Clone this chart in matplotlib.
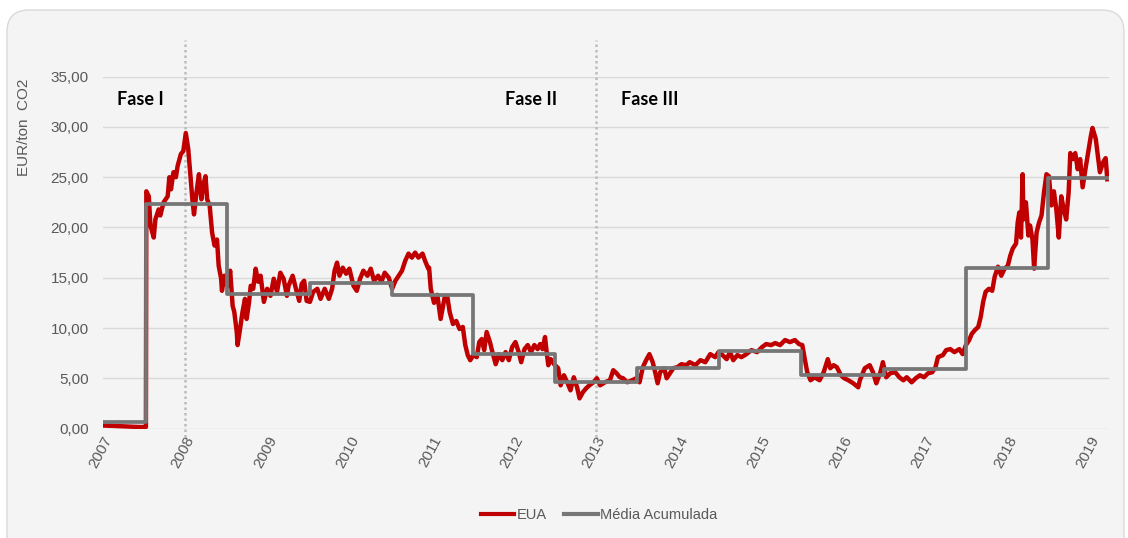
import matplotlib
matplotlib.use("Agg")
import matplotlib.pyplot as plt
from matplotlib.patches import FancyBboxPatch
from matplotlib.lines import Line2D
from matplotlib.transforms import IdentityTransform

# EUA price (EUR/ton CO2), decimal year
eua_year = [
    2007.00, 2007.15, 2007.30, 2007.45, 2007.525,
    2007.53, 2007.56, 2007.58, 2007.62, 2007.64, 2007.68, 2007.70, 2007.74, 2007.79, 2007.81,
    2007.83, 2007.86, 2007.89, 2007.91, 2007.95, 2007.98, 2008.01, 2008.04, 2008.06, 2008.09,
    2008.11, 2008.14, 2008.17, 2008.20, 2008.22, 2008.25, 2008.27, 2008.30, 2008.33, 2008.36,
    2008.39, 2008.41, 2008.44, 2008.45, 2008.48, 2008.52, 2008.55, 2008.58, 2008.60, 2008.63,
    2008.64, 2008.67, 2008.70, 2008.73, 2008.75, 2008.78, 2008.80, 2008.83, 2008.86, 2008.89,
    2008.92, 2008.96, 2009.00, 2009.04, 2009.08, 2009.12, 2009.16, 2009.20, 2009.24, 2009.26,
    2009.31, 2009.35, 2009.39, 2009.42, 2009.45, 2009.48, 2009.52, 2009.56, 2009.61, 2009.65,
    2009.70, 2009.75, 2009.79, 2009.82, 2009.85, 2009.88, 2009.92, 2009.96, 2010.00, 2010.05,
    2010.09, 2010.13, 2010.17, 2010.22, 2010.26, 2010.30, 2010.35, 2010.39, 2010.43, 2010.48,
    2010.52, 2010.56, 2010.60, 2010.64, 2010.68, 2010.72, 2010.76, 2010.80, 2010.84, 2010.89,
    2010.92, 2010.96, 2010.97, 2010.99, 2011.03, 2011.07, 2011.11, 2011.16, 2011.19, 2011.22,
    2011.26, 2011.30, 2011.34, 2011.38, 2011.41, 2011.44, 2011.47, 2011.51, 2011.55, 2011.58,
    2011.61, 2011.64, 2011.67, 2011.71, 2011.74, 2011.78, 2011.82, 2011.86, 2011.90, 2011.94,
    2011.98, 2012.02, 2012.06, 2012.09, 2012.13, 2012.17, 2012.21, 2012.25, 2012.29, 2012.32,
    2012.35, 2012.38, 2012.40, 2012.42, 2012.45, 2012.49, 2012.54, 2012.57, 2012.61, 2012.65,
    2012.69, 2012.73, 2012.77, 2012.80, 2012.84, 2012.88, 2012.92, 2012.97, 2013.01, 2013.05,
    2013.11, 2013.17, 2013.21, 2013.25, 2013.29, 2013.33, 2013.38, 2013.44, 2013.49, 2013.53,
    2013.57, 2013.61, 2013.65, 2013.69, 2013.72, 2013.75, 2013.78, 2013.83, 2013.86, 2013.90,
    2013.94, 2013.99, 2014.04, 2014.10, 2014.14, 2014.21, 2014.27, 2014.33, 2014.39, 2014.45,
    2014.49, 2014.54, 2014.59, 2014.63, 2014.67, 2014.72, 2014.77, 2014.83, 2014.89, 2014.96,
    2015.02, 2015.07, 2015.13, 2015.18, 2015.24, 2015.30, 2015.36, 2015.42, 2015.47, 2015.51,
    2015.54, 2015.57, 2015.61, 2015.66, 2015.72, 2015.77, 2015.82, 2015.85, 2015.89, 2015.93,
    2015.98, 2016.02, 2016.07, 2016.13, 2016.19, 2016.21, 2016.27, 2016.33, 2016.37, 2016.41,
    2016.46, 2016.49, 2016.53, 2016.58, 2016.64, 2016.69, 2016.74, 2016.78, 2016.84, 2016.89,
    2016.94, 2016.99, 2017.04, 2017.09, 2017.13, 2017.16, 2017.22, 2017.26, 2017.31, 2017.36,
    2017.42, 2017.46, 2017.50, 2017.54, 2017.57, 2017.61, 2017.65, 2017.68, 2017.71, 2017.74,
    2017.78, 2017.82, 2017.85, 2017.89, 2017.93, 2017.97, 2018.01, 2018.04, 2018.07, 2018.11,
    2018.13, 2018.15, 2018.17, 2018.19, 2018.20, 2018.23, 2018.26, 2018.28, 2018.31, 2018.33,
    2018.36, 2018.39, 2018.42, 2018.45, 2018.48, 2018.51, 2018.54, 2018.57, 2018.60, 2018.63,
    2018.66, 2018.69, 2018.72, 2018.75, 2018.77, 2018.80, 2018.83, 2018.86, 2018.89, 2018.92,
    2018.96, 2018.99, 2019.02, 2019.04, 2019.08, 2019.11, 2019.13, 2019.17, 2019.20, 2019.22,
]
eua_price = [
    0.3, 0.25, 0.2, 0.15, 0.15,
    23.6, 23.1, 20.2, 19.0, 20.8, 21.8, 21.2, 22.5, 23.1, 25.0,
    23.8, 25.5, 25.0, 26.1, 27.3, 27.6, 29.4, 27.8, 25.8, 22.8,
    21.3, 23.5, 25.3, 22.8, 24.1, 25.1, 22.8, 22.2, 19.5, 18.2,
    18.8, 16.2, 14.9, 13.7, 15.2, 14.2, 15.7, 12.2, 11.6, 9.6,
    8.3, 9.9, 11.6, 12.9, 10.9, 12.6, 14.2, 13.9, 15.9, 14.6,
    15.2, 12.6, 13.9, 13.2, 14.9, 13.6, 15.5, 14.9, 13.2, 14.2,
    15.2, 13.9, 12.7, 14.4, 14.7, 12.7, 12.6, 13.6, 13.9, 12.9,
    13.9, 12.9, 13.9, 15.7, 16.5, 15.2, 16.0, 15.4, 15.9, 14.2,
    13.7, 14.9, 15.7, 15.2, 15.9, 14.7, 15.2, 14.6, 15.5, 15.0,
    13.9, 14.7, 15.2, 15.7, 16.7, 17.4, 17.0, 17.5, 17.0, 17.4,
    16.7, 15.9, 16.0, 13.9, 12.5, 13.3, 10.9, 13.1, 13.2, 11.6,
    10.4, 10.7, 9.9, 10.1, 8.3, 7.3, 6.8, 7.3, 7.1, 8.6,
    8.9, 7.8, 9.6, 8.6, 7.6, 6.4, 7.4, 6.8, 7.6, 6.8,
    8.1, 8.6, 7.6, 6.6, 7.9, 8.3, 7.6, 8.3, 7.9, 8.4,
    7.9, 9.1, 7.6, 6.3, 6.9, 6.4, 6.0, 4.3, 5.3, 4.6,
    3.8, 5.1, 4.1, 3.0, 3.6, 4.0, 4.3, 4.6, 5.0, 4.3,
    4.6, 4.8, 5.8, 5.5, 5.1, 5.0, 4.6, 4.8, 5.0, 4.6,
    6.1, 6.8, 7.4, 6.6, 5.6, 4.5, 5.6, 6.0, 5.0, 5.5,
    6.0, 6.1, 6.4, 6.3, 6.6, 6.3, 6.8, 6.6, 7.4, 7.1,
    7.6, 7.3, 6.9, 7.6, 6.8, 7.3, 7.1, 7.4, 7.8, 7.6,
    8.1, 8.4, 8.3, 8.5, 8.3, 8.8, 8.6, 8.8, 8.4, 8.3,
    6.9, 5.6, 4.8, 5.1, 4.8, 5.6, 6.9, 6.0, 6.3, 6.1,
    5.3, 5.0, 4.8, 4.5, 4.1, 4.8, 6.0, 6.3, 5.6, 4.5,
    5.6, 6.6, 5.1, 5.5, 5.6, 5.1, 4.8, 5.1, 4.6, 5.0,
    5.3, 5.1, 5.5, 5.6, 6.1, 7.1, 7.3, 7.8, 7.9, 7.6,
    7.9, 7.4, 8.3, 8.8, 9.4, 9.8, 10.1, 11.1, 12.6, 13.6,
    13.9, 13.7, 15.1, 16.1, 15.2, 15.9, 16.2, 17.2, 17.9, 18.4,
    20.5, 21.5, 19.0, 25.3, 20.8, 22.5, 19.2, 20.2, 18.8, 15.9,
    19.5, 20.5, 21.2, 23.5, 25.3, 25.1, 22.2, 23.6, 21.8, 19.0,
    23.1, 21.8, 20.8, 23.5, 27.4, 26.8, 27.4, 25.8, 26.8, 24.0,
    26.1, 27.6, 29.1, 29.9, 28.8, 26.8, 25.5, 26.5, 26.9, 24.8,
]

# Média acumulada (step levels, each starting at the given year)
avg_year = [2007.00, 2007.53, 2008.515, 2009.52, 2010.52, 2011.50, 2012.50,
            2013.50, 2014.50, 2015.49, 2016.50, 2017.50, 2018.50, 2019.23]
avg_value = [0.6, 22.3, 13.4, 14.5, 13.3, 7.4, 4.6,
             6.0, 7.7, 5.3, 5.9, 16.0, 24.9, 24.9]

years = list(range(2007, 2020))
y_ticks = [0, 5, 10, 15, 20, 25, 30, 35]
phase_lines = [2008, 2013]
phases = [("Fase I", 2007.17), ("Fase II", 2011.895), ("Fase III", 2013.31)]

RED = "#c00000"
GREY = "#767676"
TXT = "#595959"

fig = plt.figure(figsize=(11.28, 5.38), dpi=100)
fig.patch.set_facecolor("white")

# light grey rounded card behind the chart
card = FancyBboxPatch((7, -20), 1117, 548, boxstyle="round,pad=0,rounding_size=22",
                      transform=IdentityTransform(), fc="#f4f4f4", ec="#d9d9d9", lw=1.0,
                      zorder=-10)
fig.patches.append(card)

ax = fig.add_axes([0.0911, 0.2035, 0.8920, 0.6539])
ax.set_facecolor("none")

ax.plot(eua_year, eua_price, color=RED, lw=3.2, zorder=3, solid_joinstyle="round")
ax.plot(avg_year, avg_value, color=GREY, lw=2.7, drawstyle="steps-post", zorder=4)

for yr in phase_lines:
    ax.plot([yr, yr], [-0.85, 38.66], color="#bdbdbd", lw=1.8, ls=(0, (1, 1.2)),
            clip_on=False, zorder=2)

for label, xpos in phases:
    ax.text(xpos, 32.2, label, fontsize=13, fontweight="bold", family="Lato",
            color="black", ha="left", va="baseline")

ax.set_xlim(2007.0, 2019.24)
ax.set_ylim(0, 35)
ax.set_yticks(y_ticks)
ax.set_yticklabels([f"{v:.2f}".replace(".", ",") for v in y_ticks])
ax.set_xticks(years)
ax.set_xticklabels([str(y) for y in years], rotation=62, ha="right", va="top",
                   rotation_mode="anchor")
ax.tick_params(axis="both", length=0, labelsize=11, labelcolor=TXT)
ax.tick_params(axis="y", pad=10)
ax.tick_params(axis="x", pad=4)
for lab in ax.get_xticklabels() + ax.get_yticklabels():
    lab.set_family("Liberation Sans")

ax.grid(axis="y", color="#d9d9d9", lw=1.0)
ax.set_axisbelow(True)
for s in ax.spines.values():
    s.set_visible(False)

fig.text(24 / 1128, 1 - 127 / 538, "EUR/ton  CO2", rotation=90, ha="center", va="center",
         fontsize=11, color=TXT, family="Liberation Sans")

handles = [Line2D([], [], color=RED, lw=3),
           Line2D([], [], color=GREY, lw=3)]
fig.legend(handles, ["EUA", "Média Acumulada"], loc="center",
           bbox_to_anchor=(599 / 1128, 1 - 515 / 538), ncol=2, frameon=False,
           prop={"family": "Liberation Sans", "size": 10.5}, labelcolor=TXT,
           handlelength=2.3, handletextpad=0.15, columnspacing=1.2)

fig.savefig("out.png", dpi=100)
